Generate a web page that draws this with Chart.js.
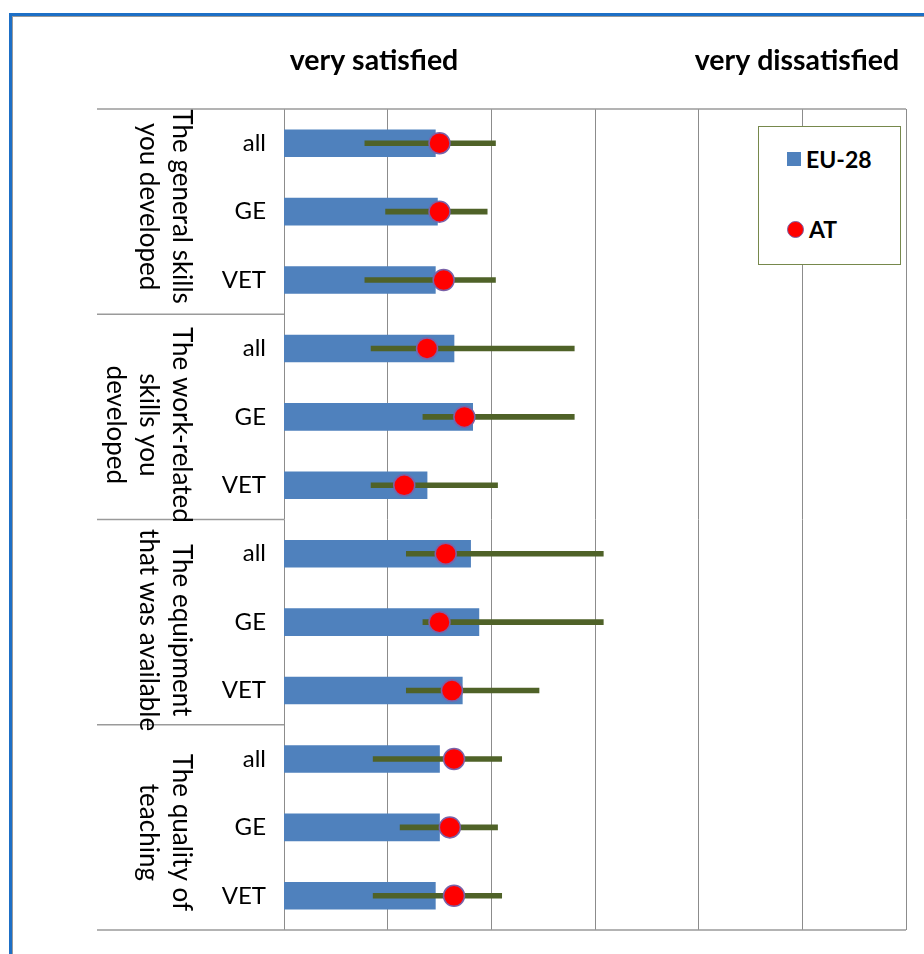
<!DOCTYPE html>
<html>
<head>
<meta charset="utf-8">
<style>
  body { margin: 0; background: #fff; font-family: Lato, "Open Sans", sans-serif; }
  #wrap { position: relative; width: 924px; height: 954px; overflow: hidden; }
  #frame { position: absolute; left: 9px; top: 13px; width: 1000px; height: 1000px;
           border-left: 3px solid #1d6fc6; border-top: 3px solid #1d6fc6;
           box-shadow: inset 1px 1px 0 #9a9a9a; }
  #chart { position: absolute; left: 0; top: 0; }
  #legend { position: absolute; left: 758px; top: 126px; width: 141px; height: 137px;
            border: 1.5px solid #76884c; background: #fff; }
  .item { position: absolute; left: 28px; display: flex; align-items: center;
          font-weight: bold; font-size: 23px; color: #000; }
  .sw { display: inline-block; margin-right: 5px; }
</style>
</head>
<body>
<div id="wrap">
  <div id="frame"></div>
  <canvas id="chart" width="924" height="954"></canvas>
  <div id="legend"></div>
</div>

<script src="https://cdn.jsdelivr.net/npm/chart.js"></script>
<script>
// rows (top to bottom)
const rowLabels = ["all", "GE", "VET", "all", "GE", "VET", "all", "GE", "VET", "all", "GE", "VET"];
const groupLabels = [
  ["The general skills", "you developed"],
  ["The work-related", "skills you", "developed"],
  ["The equipment", "that was available"],
  ["The quality of", "teaching"]
];
// 1 = very satisfied ... 4 = very dissatisfied
const eu28 = [1.73, 1.74, 1.73, 1.82, 1.91, 1.69, 1.90, 1.94, 1.86, 1.75, 1.75, 1.73];
const at = [1.75, 1.75, 1.77, 1.69, 1.87, 1.58, 1.78, 1.75, 1.81, 1.82, 1.80, 1.82];
const atLow = [1.39, 1.49, 1.39, 1.42, 1.67, 1.42, 1.59, 1.67, 1.59, 1.43, 1.56, 1.43];
const atHigh = [2.02, 1.98, 2.02, 2.40, 2.40, 2.03, 2.54, 2.54, 2.23, 2.05, 2.03, 2.05];
const headLabels = ["very satisfied", "very dissatisfied"];

const ranges = atLow.map((lo, i) => [lo, atHigh[i]]);

// lines, group labels and headings around the plot
const decor = {
  id: "decor",
  afterDraw(chart) {
    const ctx = chart.ctx;
    const a = chart.chartArea;
    const y = chart.scales.y;
    const left = 97;
    const nudge = [-5, 8, 8, 5];
    ctx.save();
    ctx.strokeStyle = "#9a9a9a";
    ctx.lineWidth = 1.5;
    ctx.beginPath();
    ctx.moveTo(left, a.top); ctx.lineTo(a.right, a.top);
    ctx.moveTo(left, a.bottom); ctx.lineTo(a.right, a.bottom);
    for (let g = 1; g < groupLabels.length; g++) {
      const yy = (y.getPixelForValue(g * 3 - 1) + y.getPixelForValue(g * 3)) / 2;
      ctx.moveTo(left, yy); ctx.lineTo(a.left, yy);
    }
    ctx.stroke();

    // rotated group labels
    ctx.fillStyle = "#000";
    ctx.font = "26px Lato, 'Open Sans', sans-serif";
    ctx.textAlign = "center";
    ctx.textBaseline = "middle";
    groupLabels.forEach((lines, g) => {
      const cy = (y.getPixelForValue(g * 3) + y.getPixelForValue(g * 3 + 2)) / 2 + nudge[g];
      ctx.save();
      ctx.translate(181, cy);
      ctx.rotate(Math.PI / 2);
      lines.forEach((t, k) => ctx.fillText(t, 0, k * 33));
      ctx.restore();
    });

    ctx.font = "bold 28.5px Lato, 'Open Sans', sans-serif";
    ctx.fillText(headLabels[0], 374, 61);
    ctx.fillText(headLabels[1], 797, 61);
    ctx.restore();
  }
};

const chart = new Chart(document.getElementById("chart"), {
  type: "bar",
  data: {
    labels: rowLabels,
    datasets: [
      {
        type: "line",
        label: "AT",
        data: at,
        showLine: false,
        pointStyle: "circle",
        pointRadius: 10.5,
        pointBackgroundColor: "#ff0000",
        pointBorderColor: "#7a62a8",
        pointBorderWidth: 1.5,
        order: 0
      },
      {
        label: "range",
        data: ranges,
        backgroundColor: "#4f6228",
        barThickness: 5,
        grouped: false,
        order: 1
      },
      {
        label: "EU-28",
        data: eu28,
        backgroundColor: "#4f81bd",
        barThickness: 27,
        grouped: false,
        order: 2
      }
    ]
  },
  options: {
    indexAxis: "y",
    responsive: false,
    animation: false,
    layout: { padding: { left: 0, right: 18, top: 109, bottom: 24 } },
    plugins: { legend: { display: false }, tooltip: { enabled: false } },
    scales: {
      x: {
        min: 1, max: 4,
        ticks: { display: false, stepSize: 0.5 },
        grid: { color: "#8c8c8c", lineWidth: 1, drawTicks: false },
        border: { display: false },
        afterFit(s) { s.height = 0; }
      },
      y: {
        grid: { display: false, drawTicks: false },
        border: { display: false },
        ticks: { color: "#000", padding: 18, font: { family: "Lato", size: 24 } },
        afterFit(s) { s.width = 284; s.paddingTop = 0; s.paddingBottom = 0; }
      }
    }
  },
  plugins: [decor]
});

// legend box
const legend = document.getElementById("legend");
const eu = chart.data.datasets[2], atSet = chart.data.datasets[0];
legend.innerHTML =
  '<div class="item" style="top:18px"><span class="sw" style="width:14px;height:14px;background:' + eu.backgroundColor + '"></span>' + eu.label + '</div>' +
  '<div class="item" style="top:88px"><span class="sw" style="width:15px;height:15px;border-radius:50%;background:' + atSet.pointBackgroundColor + ';border:1px solid ' + atSet.pointBorderColor + '"></span>' + atSet.label + '</div>';
</script>
</body>
</html>
